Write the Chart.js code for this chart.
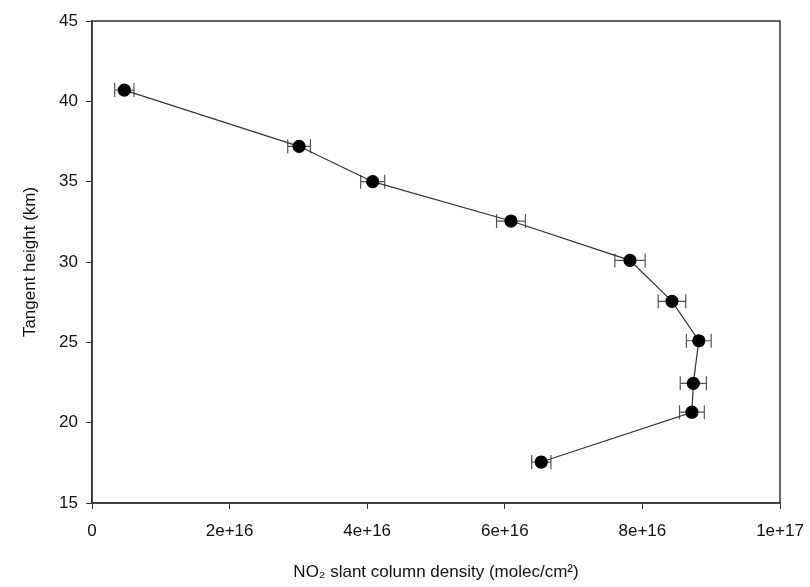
<!DOCTYPE html>
<html>
<head>
<meta charset="utf-8">
<script src="https://cdn.jsdelivr.net/npm/chart.js@4/dist/chart.umd.min.js"></script>
<style>
  html, body { margin: 0; padding: 0; background: #fff; }
  #wrap { width: 810px; height: 587px; }
</style>
</head>
<body>
<div id="wrap"><canvas id="NO2Chart"></canvas></div>
<script>
// tangent heights (km) and NO2 slant column density (molec/cm2)
const tangentHeight = [40.7, 37.2, 35.0, 32.55, 30.1, 27.55, 25.1, 22.45, 20.65, 17.55];
const slantColumn = [0.47e16, 3.01e16, 4.08e16, 6.09e16, 7.82e16, 8.43e16, 8.82e16, 8.74e16, 8.72e16, 6.53e16];
const slantError = [0.14e16, 0.165e16, 0.175e16, 0.21e16, 0.22e16, 0.2e16, 0.18e16, 0.19e16, 0.18e16, 0.14e16];

const xTicks = [0, 2e16, 4e16, 6e16, 8e16, 1e17];
const yTicks = [15, 20, 25, 30, 35, 40, 45];

const points = tangentHeight.map((h, i) => ({ x: slantColumn[i], y: h }));

// horizontal error bars + box round the plot area
const extras = {
  id: 'extras',
  beforeDatasetsDraw(chart) {
    const c = chart.ctx, xs = chart.scales.x, ys = chart.scales.y;
    c.save();
    c.strokeStyle = '#555';
    c.lineWidth = 1.2;
    points.forEach((p, i) => {
      const x1 = xs.getPixelForValue(p.x - slantError[i]);
      const x2 = xs.getPixelForValue(p.x + slantError[i]);
      const y = ys.getPixelForValue(p.y);
      c.beginPath();
      c.moveTo(x1, y); c.lineTo(x2, y);
      c.moveTo(x1, y - 7); c.lineTo(x1, y + 7);
      c.moveTo(x2, y - 7); c.lineTo(x2, y + 7);
      c.stroke();
    });
    c.restore();
  },
  afterDraw(chart) {
    const a = chart.chartArea, c = chart.ctx;
    c.save();
    c.strokeStyle = '#333';
    c.lineWidth = 1.5;
    c.strokeRect(a.left, a.top, a.right - a.left, a.bottom - a.top);
    c.restore();
  }
};

const tickFont = { family: 'Liberation Sans, Arial, sans-serif', size: 17 };
const titleFont = { family: 'Liberation Sans, Arial, sans-serif', size: 17 };

new Chart(document.getElementById('NO2Chart'), {
  type: 'line',
  data: {
    datasets: [{
      data: points,
      borderColor: '#333',
      borderWidth: 1.2,
      pointRadius: 6,
      pointHoverRadius: 6,
      pointBackgroundColor: '#000',
      pointBorderColor: '#000',
      fill: false,
      tension: 0
    }]
  },
  options: {
    responsive: true,
    maintainAspectRatio: false,
    animation: false,
    layout: { padding: { top: 21, right: 30, left: 0, bottom: 0 } },
    plugins: { legend: { display: false }, tooltip: { enabled: false } },
    scales: {
      x: {
        type: 'linear',
        min: 0, max: 1e17,
        afterBuildTicks: s => { s.ticks = xTicks.map(v => ({ value: v })); },
        afterFit: s => { s.height = 84; s.paddingRight = 0; s.paddingLeft = 0; },
        grid: { drawOnChartArea: false, tickLength: 6, color: '#333' },
        border: { color: '#333', width: 1.5 },
        ticks: {
          color: '#111', font: tickFont, padding: 12, maxRotation: 0,
          callback: v => v === 0 ? '0' : v.toExponential(0)
        },
        title: {
          display: true,
          text: 'NO₂ slant column density (molec/cm²)',
          color: '#111', font: titleFont,
          padding: { top: 12, bottom: 4 }
        }
      },
      y: {
        type: 'linear',
        min: 15, max: 45,
        afterBuildTicks: s => { s.ticks = yTicks.map(v => ({ value: v })); },
        afterFit: s => { s.width = 92; },
        grid: { drawOnChartArea: false, tickLength: 6, color: '#333' },
        border: { color: '#333', width: 1.5 },
        ticks: { color: '#111', font: tickFont, padding: 8 },
        title: {
          display: true,
          text: 'Tangent height (km)',
          color: '#111', font: titleFont,
          padding: { top: 20, bottom: 4 }
        }
      }
    }
  },
  plugins: [extras]
});
</script>
</body>
</html>
